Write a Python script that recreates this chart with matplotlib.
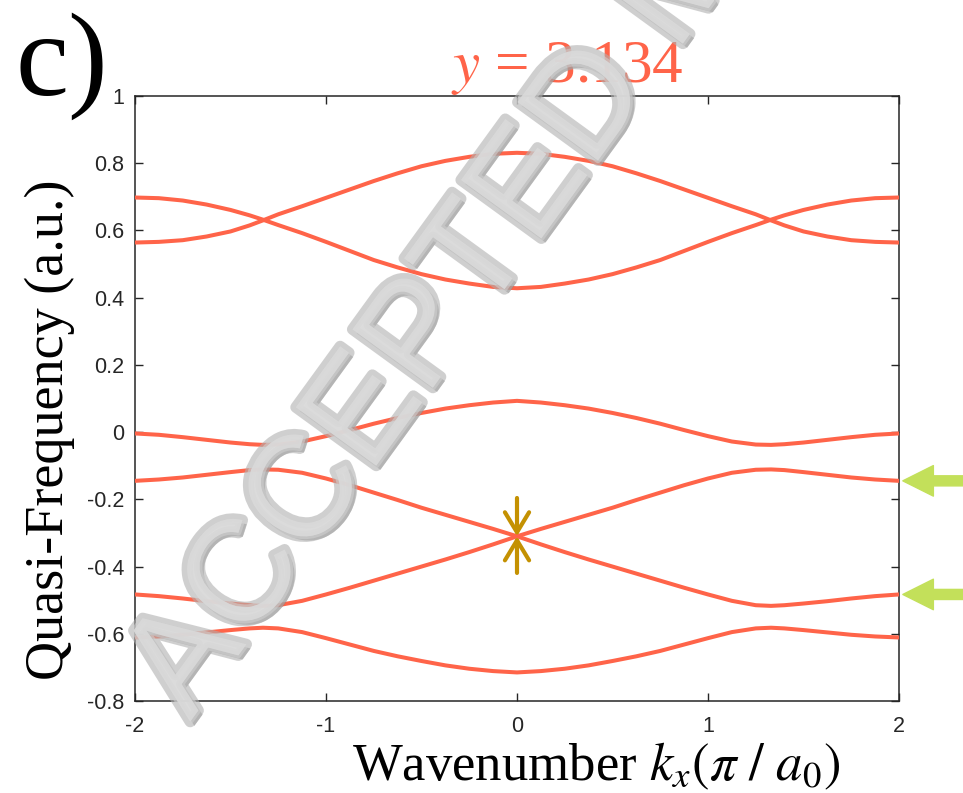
import matplotlib
matplotlib.use("Agg")
import matplotlib.pyplot as plt
import matplotlib.patheffects as pe

plt.rcParams['axes.unicode_minus'] = False
plt.rcParams['mathtext.fontset'] = 'stix'

# wavenumber samples (pi / a0)
kx = [-2, -1.875, -1.75, -1.625, -1.5, -1.4, -1.33, -1.25, -1.125, -1.0,
      -0.875, -0.75, -0.625, -0.5, -0.375, -0.25, -0.125, 0,
      0.125, 0.25, 0.375, 0.5, 0.625, 0.75, 0.875, 1.0,
      1.125, 1.25, 1.33, 1.4, 1.5, 1.625, 1.75, 1.875, 2]

# quasi-frequency bands
band_a = [0.698, 0.696, 0.689, 0.677, 0.661, 0.645, 0.632, 0.616, 0.592, 0.566,
          0.539, 0.512, 0.490, 0.470, 0.454, 0.442, 0.432, 0.428,
          0.432, 0.442, 0.454, 0.470, 0.490, 0.512, 0.539, 0.566,
          0.592, 0.616, 0.632, 0.645, 0.661, 0.677, 0.689, 0.696, 0.698]
band_b = [0.564, 0.566, 0.571, 0.582, 0.597, 0.615, 0.630, 0.648, 0.672, 0.697,
          0.722, 0.747, 0.770, 0.791, 0.807, 0.819, 0.828, 0.831,
          0.828, 0.819, 0.807, 0.791, 0.770, 0.747, 0.722, 0.697,
          0.672, 0.648, 0.630, 0.615, 0.597, 0.582, 0.571, 0.566, 0.564]
band_c = [-0.004, -0.008, -0.015, -0.023, -0.031, -0.036, -0.038, -0.037, -0.028, -0.012,
          0.006, 0.025, 0.042, 0.057, 0.070, 0.080, 0.088, 0.093,
          0.088, 0.080, 0.070, 0.057, 0.042, 0.025, 0.006, -0.012,
          -0.028, -0.037, -0.038, -0.036, -0.031, -0.023, -0.015, -0.008, -0.004]
band_d = [-0.145, -0.141, -0.135, -0.127, -0.119, -0.113, -0.111, -0.112, -0.121, -0.138,
          -0.158, -0.180, -0.202, -0.225, -0.246, -0.267, -0.288, -0.310,
          -0.288, -0.267, -0.246, -0.225, -0.202, -0.180, -0.158, -0.138,
          -0.121, -0.112, -0.111, -0.113, -0.119, -0.127, -0.135, -0.141, -0.145]
band_e = [-0.483, -0.488, -0.495, -0.503, -0.510, -0.515, -0.517, -0.515, -0.502, -0.483,
          -0.463, -0.442, -0.421, -0.400, -0.379, -0.357, -0.334, -0.310,
          -0.334, -0.357, -0.379, -0.400, -0.421, -0.442, -0.463, -0.483,
          -0.502, -0.515, -0.517, -0.515, -0.510, -0.503, -0.495, -0.488, -0.483]
band_f = [-0.611, -0.608, -0.603, -0.596, -0.589, -0.584, -0.582, -0.584, -0.595, -0.613,
          -0.632, -0.651, -0.667, -0.681, -0.694, -0.704, -0.711, -0.715,
          -0.711, -0.704, -0.694, -0.681, -0.667, -0.651, -0.632, -0.613,
          -0.595, -0.584, -0.582, -0.584, -0.589, -0.596, -0.603, -0.608, -0.611]
bands = [band_a, band_b, band_c, band_d, band_e, band_f]

xticks = [-2, -1, 0, 1, 2]
yticks = [-0.8, -0.6, -0.4, -0.2, 0, 0.2, 0.4, 0.6, 0.8, 1]
yticklabels = ['-0.8', '-0.6', '-0.4', '-0.2', '0', '0.2', '0.4', '0.6', '0.8', '1']

crossing = (0, -0.310)          # band touching point marked by the gold arrows
marked_levels = [-0.145, -0.483]  # green arrows on the right

line_col = '#FF6449'
gold = '#C49102'
green = '#C3E05A'
ink = '#262626'

fig = plt.figure(figsize=(9.63, 7.93), dpi=100)
ax = fig.add_axes([135/963, 1 - 701/793, 764/963, 605/793])

for b in bands:
    ax.plot(kx, b, color=line_col, lw=2.9, solid_joinstyle='round', zorder=3)

tickfont = {'family': 'Liberation Sans', 'size': 15.5, 'color': ink}
ax.set_xlim(-2, 2)
ax.set_ylim(-0.8, 1)
ax.set_xticks(xticks)
ax.set_xticklabels([str(t) for t in xticks], fontdict=tickfont)
ax.set_yticks(yticks)
ax.set_yticklabels(yticklabels, fontdict=tickfont)
ax.tick_params(direction='in', length=6, width=1.0, color=ink,
               top=True, right=True)
ax.tick_params(axis='x', pad=11)
ax.tick_params(axis='y', pad=8)
for s in ax.spines.values():
    s.set_linewidth(1.1)
    s.set_color(ink)

# gold arrows pointing at the crossing
for start in (-0.196, -0.419):
    ax.annotate('', xy=crossing, xytext=(0, start),
                arrowprops=dict(arrowstyle='->, head_length=0.48, head_width=0.29',
                                mutation_scale=30, color=gold, lw=3.0,
                                shrinkA=0, shrinkB=0), zorder=4)

# green arrows outside the right edge
for lev in marked_levels:
    ax.annotate('', xy=(1.005, lev), xytext=(1.09, lev),
                xycoords=('axes fraction', 'data'),
                textcoords=('axes fraction', 'data'),
                arrowprops=dict(arrowstyle='simple, head_length=1.0, head_width=1.0, tail_width=0.33',
                                mutation_scale=22, color=green,
                                shrinkA=0, shrinkB=0),
                annotation_clip=False)

serif = ['Liberation Serif', 'DejaVu Serif']
ax.text(0.565, 1.023, r'$y$ = 3.134', transform=ax.transAxes, ha='center',
        va='baseline', color=line_col, fontsize=44, family=serif)
ax.set_xlabel(r'Wavenumber $k_x(\pi\ /\ a_0)$', fontsize=38, family=serif)
ax.xaxis.set_label_coords(0.603, -0.065)
ax.set_ylabel('Quasi-Frequency (a.u.)', fontsize=39, family=serif)
ax.yaxis.set_label_coords(-0.078, 0.448)
fig.text(15/963, 1 - 95/793, 'c)', fontsize=86, family=serif, va='baseline')

# watermark
fig.text(190/963, 1 - 722/793, 'ACCEPTED MANUSCRIPT', rotation=54,
         rotation_mode='anchor', ha='left', va='baseline', fontsize=104,
         family='Liberation Sans', color='#dedede', alpha=0.6, zorder=10,
         path_effects=[pe.SimplePatchShadow(offset=(3, -3), shadow_rgbFace='#6a6a6a', alpha=0.45),
                       pe.Stroke(linewidth=8, foreground='#b0b0b0'),
                       pe.Stroke(linewidth=4, foreground='#cfcfcf'),
                       pe.Normal()])

fig.savefig('out.png', dpi=100)
